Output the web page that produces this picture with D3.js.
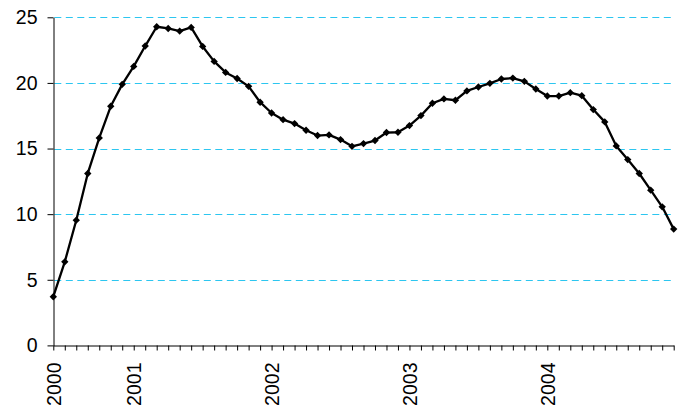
<!DOCTYPE html>
<html>
<head>
<meta charset="utf-8">
<script src="https://cdn.jsdelivr.net/npm/d3@7"></script>
<style>
  html, body { margin: 0; padding: 0; background: #fff; }
  svg { display: block; }
  text { font-family: "Liberation Sans", Arial, sans-serif; fill: #000; }
</style>
</head>
<body>
<svg id="chart" width="682" height="412"></svg>
<script>
// Monthly categories, June 2000 .. December 2004
const months = [];
for (let yr = 2000; yr <= 2004; yr++) {
  for (let m = 1; m <= 12; m++) {
    if (yr === 2000 && m < 6) continue;
    months.push(yr + "-" + String(m).padStart(2, "0"));
  }
}

const values = [
  3.71, 6.37, 9.54, 13.1, 15.81, 18.22, 19.89, 21.26, 22.81, 24.28,
  24.15, 23.95, 24.23, 22.78, 21.64, 20.8, 20.34, 19.74, 18.53, 17.71,
  17.2, 16.9, 16.39, 15.99, 16.04, 15.68, 15.17, 15.38, 15.61, 16.22,
  16.24, 16.75, 17.51, 18.45, 18.78, 18.68, 19.39, 19.69, 19.97, 20.3,
  20.37, 20.12, 19.54, 19.0, 19.0, 19.26, 19.03, 17.97, 17.03, 15.2,
  14.16, 13.1, 11.83, 10.56, 8.86
];

// Year labels shown on the category axis (index into months, text)
const xLabelIndex = [0, 7, 19, 31, 43];
const xLabelText = ["2000", "2001", "2002", "2003", "2004"];

const yTicks = [0, 5, 10, 15, 20, 25];

const svg = d3.select("#chart");
const pLeft = 53.3, pRight = 673.7, pTop = 17.3, pBottom = 345.4;
const fontSize = "19.5px";

const x = d3.scalePoint().domain(months).range([pLeft, pRight]);
const y = d3.scaleLinear().domain([0, 25]).range([pBottom, pTop]);

// gridlines
svg.append("g")
  .selectAll("line")
  .data(yTicks.filter(d => d > 0))
  .join("line")
  .attr("x1", pLeft + 1).attr("x2", pRight + 1)
  .attr("y1", d => Math.round(y(d)) + 0.5)
  .attr("y2", d => Math.round(y(d)) + 0.5)
  .attr("stroke", "#2cc6f0")
  .attr("stroke-width", 1)
  .attr("stroke-dasharray", "7,4.5");

// y axis
const yAxis = d3.axisLeft(y).tickValues(yTicks).tickSize(6).tickPadding(10).tickSizeOuter(0);
const gy = svg.append("g")
  .attr("transform", `translate(${Math.round(pLeft) + 0.5},0)`)
  .call(yAxis);
gy.select(".domain").attr("stroke", "#000");
gy.selectAll(".tick line").attr("stroke", "#000");
gy.selectAll(".tick text")
  .style("font-family", "'Liberation Sans', Arial, sans-serif")
  .style("font-size", fontSize)
  .attr("fill", "#000");

// x axis
const xAxis = d3.axisBottom(x).tickSize(5).tickSizeOuter(0)
  .tickFormat(d => {
    const i = months.indexOf(d);
    const k = xLabelIndex.indexOf(i);
    return k >= 0 ? xLabelText[k] : "";
  });
const gx = svg.append("g")
  .attr("transform", `translate(0,${Math.round(pBottom) + 0.5})`)
  .call(xAxis);
gx.select(".domain").attr("stroke", "#000");
gx.selectAll(".tick line").attr("stroke", "#000");
gx.selectAll(".tick text")
  .style("font-family", "'Liberation Sans', Arial, sans-serif")
  .style("font-size", fontSize)
  .attr("fill", "#000")
  .attr("text-anchor", "end")
  .attr("transform", "rotate(-90)")
  .attr("x", -17)
  .attr("y", 0)
  .attr("dy", "0.36em");

// line
const line = d3.line()
  .x((d, i) => x(months[i]))
  .y(d => y(d));

svg.append("path")
  .datum(values)
  .attr("fill", "none")
  .attr("stroke", "#000")
  .attr("stroke-width", 2.3)
  .attr("stroke-linejoin", "round")
  .attr("d", line);

// diamond markers
const diamond = d3.symbol().type(d3.symbolSquare).size(27);
svg.append("g")
  .selectAll("path")
  .data(values)
  .join("path")
  .attr("d", diamond)
  .attr("fill", "#000")
  .attr("transform", (d, i) => `translate(${x(months[i])},${y(d)}) rotate(45)`);
</script>
</body>
</html>
